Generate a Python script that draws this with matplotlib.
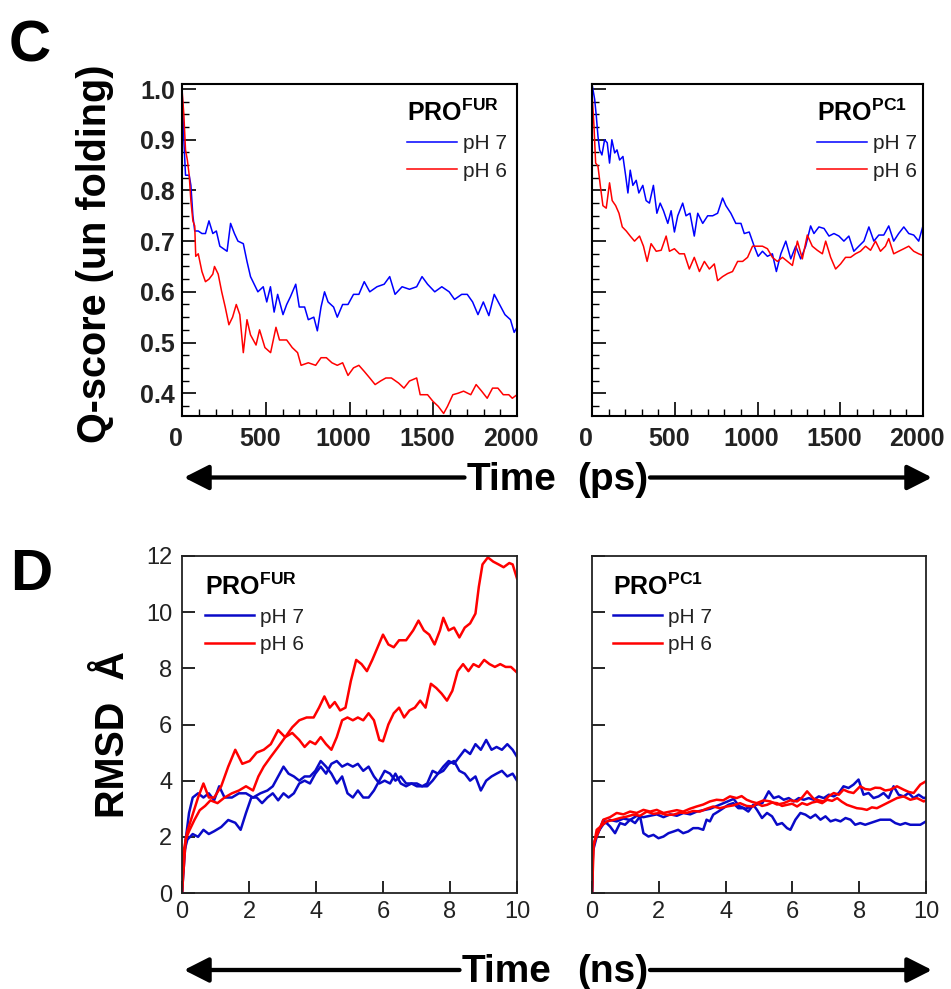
import matplotlib
matplotlib.use("Agg")
import matplotlib.pyplot as plt
from matplotlib.patches import FancyArrowPatch
from matplotlib.ticker import MultipleLocator
from matplotlib.transforms import ScaledTranslation

plt.rcParams["font.family"] = ["Liberation Sans", "DejaVu Sans"]
plt.rcParams["mathtext.fontset"] = "custom"
plt.rcParams["mathtext.rm"] = "Liberation Sans"
plt.rcParams["mathtext.bf"] = "Liberation Sans:bold"

# ---- panel C: Q-score vs time (ps) ----
t_fur_ph7 = [0, 11, 21, 43, 53, 65, 76, 97, 119, 140, 161, 184, 205, 226, 269, 290, 313, 334, 366, 388,
             409, 431, 453, 485, 506, 528, 550, 571, 603, 625, 647, 679, 700, 732, 754, 787, 808, 830, 851, 872,
             905, 927, 959, 991, 1024, 1056, 1088, 1121, 1164, 1207, 1240, 1272, 1314, 1358, 1401, 1433, 1466,
             1509, 1551, 1595, 1627, 1670, 1703, 1735, 1767, 1799, 1832, 1864, 1896, 1928, 1961, 1983, 2000]
q_fur_ph7 = [1.0, 0.90, 0.83, 0.83, 0.81, 0.75, 0.72, 0.72, 0.715, 0.715, 0.74, 0.715, 0.72, 0.69, 0.68, 0.735,
             0.715, 0.70, 0.695, 0.66, 0.63, 0.615, 0.60, 0.61, 0.58, 0.61, 0.56, 0.595, 0.555, 0.575, 0.59,
             0.615, 0.57, 0.57, 0.545, 0.55, 0.523, 0.57, 0.60, 0.58, 0.57, 0.55, 0.575, 0.575, 0.595, 0.595,
             0.62, 0.60, 0.61, 0.615, 0.63, 0.595, 0.61, 0.605, 0.61, 0.63, 0.615, 0.60, 0.61, 0.60, 0.585,
             0.595, 0.595, 0.58, 0.555, 0.58, 0.553, 0.595, 0.575, 0.555, 0.545, 0.52, 0.53]
t_fur_ph6 = [0, 11, 21, 32, 43, 53, 65, 76, 82, 97, 119, 140, 161, 184, 194, 216, 237, 258, 280, 302,
             324, 345, 366, 388, 409, 442, 463, 495, 529, 561, 582, 625, 658, 690, 711, 754, 798, 830, 862, 895,
             927, 959, 991, 1024, 1056, 1088, 1121, 1153, 1185, 1217, 1250, 1293, 1325, 1358, 1401, 1422, 1466,
             1498, 1530, 1562, 1585, 1617, 1649, 1681, 1724, 1756, 1789, 1822, 1854, 1886, 1918, 1951, 1972, 2000]
q_fur_ph6 = [1.0, 0.95, 0.88, 0.86, 0.83, 0.78, 0.74, 0.73, 0.67, 0.675, 0.64, 0.62, 0.625, 0.635, 0.65, 0.635,
             0.60, 0.57, 0.535, 0.55, 0.575, 0.555, 0.48, 0.545, 0.515, 0.495, 0.525, 0.49, 0.48, 0.53, 0.505,
             0.505, 0.49, 0.48, 0.455, 0.46, 0.455, 0.47, 0.47, 0.46, 0.455, 0.46, 0.435, 0.45, 0.455, 0.443,
             0.43, 0.417, 0.424, 0.43, 0.43, 0.42, 0.41, 0.424, 0.43, 0.397, 0.397, 0.384, 0.374, 0.36, 0.374,
             0.397, 0.40, 0.404, 0.397, 0.417, 0.404, 0.39, 0.41, 0.41, 0.397, 0.397, 0.39, 0.397]

t_pc1_ph7 = [0, 16, 26, 36, 46, 60, 76, 92, 106, 120, 137, 151, 167, 187, 203, 217, 231, 247, 267, 283,
             307, 327, 347, 371, 392, 412, 432, 458, 478, 498, 518, 548, 568, 592, 618, 639, 669, 699, 729, 759,
             789, 809, 839, 869, 900, 920, 950, 980, 1004, 1030, 1060, 1090, 1114, 1141, 1171, 1201, 1231, 1261,
             1291, 1321, 1341, 1371, 1402, 1432, 1462, 1492, 1522, 1552, 1582, 1612, 1643, 1673, 1703, 1733,
             1763, 1793, 1823, 1853, 1884, 1914, 1944, 1974, 1998]
q_pc1_ph7 = [1.01, 0.98, 0.947, 0.907, 0.88, 0.87, 0.90, 0.894, 0.854, 0.90, 0.874, 0.88, 0.86, 0.867, 0.83,
             0.795, 0.84, 0.81, 0.82, 0.795, 0.81, 0.78, 0.775, 0.81, 0.755, 0.775, 0.76, 0.735, 0.76, 0.718,
             0.75, 0.775, 0.75, 0.755, 0.71, 0.755, 0.735, 0.75, 0.75, 0.755, 0.785, 0.77, 0.755, 0.735, 0.735,
             0.715, 0.718, 0.69, 0.67, 0.68, 0.67, 0.675, 0.64, 0.675, 0.70, 0.665, 0.69, 0.665, 0.69, 0.73,
             0.715, 0.728, 0.725, 0.71, 0.715, 0.71, 0.70, 0.71, 0.68, 0.69, 0.70, 0.728, 0.70, 0.712, 0.712,
             0.73, 0.70, 0.715, 0.728, 0.715, 0.712, 0.70, 0.728]
t_pc1_ph6 = [0, 12, 22, 36, 50, 66, 86, 106, 122, 143, 163, 183, 207, 231, 257, 287, 311, 333, 357, 388,
             418, 448, 468, 498, 528, 558, 588, 618, 649, 679, 709, 739, 759, 789, 819, 849, 880, 910, 940, 970,
             1000, 1030, 1060, 1090, 1120, 1151, 1181, 1211, 1241, 1271, 1301, 1331, 1361, 1392, 1412, 1442,
             1472, 1502, 1532, 1562, 1592, 1622, 1653, 1683, 1713, 1743, 1773, 1793, 1823, 1853, 1884, 1914,
             1944, 1974, 1998]
q_pc1_ph6 = [0.993, 0.927, 0.854, 0.848, 0.81, 0.77, 0.765, 0.815, 0.78, 0.77, 0.755, 0.728, 0.72, 0.71, 0.70,
             0.71, 0.69, 0.66, 0.695, 0.68, 0.682, 0.71, 0.68, 0.685, 0.675, 0.675, 0.645, 0.668, 0.64, 0.66,
             0.645, 0.655, 0.622, 0.63, 0.636, 0.64, 0.66, 0.66, 0.668, 0.69, 0.69, 0.69, 0.685, 0.668, 0.66,
             0.668, 0.66, 0.652, 0.70, 0.665, 0.712, 0.69, 0.682, 0.675, 0.70, 0.668, 0.645, 0.655, 0.668, 0.668,
             0.675, 0.68, 0.69, 0.682, 0.70, 0.68, 0.69, 0.705, 0.675, 0.68, 0.685, 0.69, 0.68, 0.675, 0.672]

# ---- panel D: RMSD vs time (ns), two runs per pH ----
t_fur_ph6_a = [0, 0.05, 0.16, 0.32, 0.48, 0.64, 0.80, 0.96, 1.17, 1.38, 1.59, 1.80, 2.02, 2.23, 2.44, 2.65,
               2.87, 3.08, 3.29, 3.50, 3.72, 3.93, 4.09, 4.25, 4.41, 4.56, 4.72, 4.88, 5.04, 5.20, 5.36, 5.52,
               5.68, 5.84, 6.00, 6.16, 6.32, 6.48, 6.69, 6.90, 7.06, 7.22, 7.38, 7.54, 7.70, 7.80, 7.96, 8.12,
               8.28, 8.44, 8.60, 8.76, 8.86, 8.97, 9.13, 9.29, 9.45, 9.60, 9.77, 9.87, 10.0]
r_fur_ph6_a = [0, 1.5, 2.2, 2.8, 3.4, 3.9, 3.4, 3.4, 3.8, 4.5, 5.1, 4.6, 4.7, 5.0, 5.1, 5.3, 5.8, 5.55, 5.9,
               6.15, 6.25, 6.25, 6.6, 7.0, 6.6, 6.8, 6.5, 6.6, 7.55, 8.3, 8.15, 7.9, 8.3, 8.75, 9.2, 8.85, 8.75,
               9.0, 9.0, 9.35, 9.7, 9.35, 9.2, 8.85, 9.35, 9.8, 9.35, 9.45, 9.1, 9.45, 9.6, 9.95, 10.9, 11.7,
               11.95, 11.8, 11.7, 11.6, 11.75, 11.7, 11.2]
t_fur_ph6_b = [0, 0.11, 0.21, 0.37, 0.53, 0.69, 0.85, 1.06, 1.27, 1.49, 1.70, 1.91, 2.12, 2.28, 2.44, 2.65,
               2.87, 3.08, 3.29, 3.50, 3.66, 3.82, 3.98, 4.14, 4.30, 4.46, 4.62, 4.78, 4.94, 5.10, 5.25, 5.41,
               5.57, 5.73, 5.89, 6.00, 6.16, 6.32, 6.48, 6.63, 6.79, 6.95, 7.11, 7.27, 7.43, 7.59, 7.75, 7.91,
               8.07, 8.23, 8.39, 8.55, 8.70, 8.86, 9.02, 9.18, 9.34, 9.50, 9.66, 9.82, 10.0]
r_fur_ph6_b = [0, 1.9, 2.2, 2.6, 2.95, 3.1, 3.3, 3.2, 3.4, 3.55, 3.65, 3.8, 3.65, 4.15, 4.5, 4.85, 5.2, 5.55,
               5.7, 5.45, 5.2, 5.4, 5.3, 5.55, 5.3, 5.1, 5.55, 6.15, 6.25, 6.15, 6.25, 6.15, 6.4, 6.15, 5.45, 5.4,
               6.0, 6.4, 6.6, 6.25, 6.5, 6.6, 6.85, 6.6, 7.45, 7.3, 7.1, 6.85, 7.2, 7.9, 8.15, 7.9, 8.15, 8.05,
               8.3, 8.15, 8.05, 8.15, 8.05, 8.05, 7.85]
t_fur_ph7_a = [0, 0.05, 0.16, 0.32, 0.48, 0.64, 0.80, 0.96, 1.17, 1.38, 1.59, 1.75, 1.91, 2.07, 2.23, 2.39,
               2.55, 2.71, 2.87, 3.03, 3.18, 3.34, 3.50, 3.66, 3.82, 3.98, 4.14, 4.30, 4.46, 4.62, 4.78, 4.94,
               5.10, 5.25, 5.41, 5.57, 5.73, 5.89, 6.05, 6.21, 6.37, 6.53, 6.69, 6.85, 7.01, 7.17, 7.32, 7.48,
               7.64, 7.80, 7.96, 8.12, 8.28, 8.44, 8.60, 8.76, 8.92, 9.08, 9.24, 9.39, 9.55, 9.71, 9.87, 10.0]
r_fur_ph7_a = [0, 1.4, 1.9, 2.1, 2.0, 2.25, 2.1, 2.2, 2.35, 2.6, 2.5, 2.25, 2.85, 3.4, 3.4, 3.2, 3.4, 3.55,
               3.3, 3.55, 3.4, 3.55, 3.9, 4.0, 3.9, 4.25, 4.5, 4.25, 4.6, 4.7, 4.5, 4.6, 4.5, 4.6, 4.35, 4.5,
               4.15, 3.9, 4.0, 3.9, 4.25, 3.9, 3.8, 3.9, 3.8, 3.8, 3.9, 4.35, 4.25, 4.5, 4.7, 4.6, 4.85, 5.1,
               4.95, 5.3, 5.1, 5.45, 5.1, 5.2, 5.1, 5.3, 5.1, 4.85]
t_fur_ph7_b = [0, 0.11, 0.21, 0.32, 0.48, 0.64, 0.80, 0.96, 1.11, 1.27, 1.49, 1.70, 1.91, 2.12, 2.34, 2.55,
               2.71, 2.87, 3.03, 3.18, 3.34, 3.50, 3.66, 3.82, 3.98, 4.14, 4.30, 4.46, 4.62, 4.78, 4.94, 5.10,
               5.25, 5.41, 5.57, 5.73, 5.89, 6.05, 6.21, 6.37, 6.53, 6.69, 6.85, 7.01, 7.17, 7.32, 7.48, 7.64,
               7.80, 7.96, 8.12, 8.28, 8.44, 8.60, 8.76, 8.92, 9.08, 9.24, 9.39, 9.55, 9.71, 9.87, 10.0]
r_fur_ph7_b = [0, 1.9, 2.85, 3.4, 3.55, 3.4, 3.55, 3.3, 3.8, 3.4, 3.4, 3.55, 3.55, 3.4, 3.55, 3.65, 3.8, 4.15,
               4.5, 4.25, 4.15, 4.0, 4.15, 4.15, 4.35, 4.7, 4.5, 4.25, 3.9, 4.15, 3.55, 3.4, 3.65, 3.4, 3.4, 3.65,
               4.0, 4.35, 4.25, 4.0, 4.15, 3.9, 3.9, 3.9, 3.8, 3.8, 4.0, 4.25, 4.35, 4.6, 4.7, 4.35, 4.25, 4.0,
               4.15, 3.65, 4.0, 4.15, 4.25, 4.35, 4.15, 4.25, 4.0]

t_pc1_ph7_a = [0, 0.03, 0.14, 0.34, 0.54, 0.69, 0.84, 0.99, 1.14, 1.29, 1.44, 1.54, 1.69, 1.84, 1.99, 2.14,
               2.29, 2.44, 2.58, 2.73, 2.88, 3.03, 3.18, 3.33, 3.43, 3.53, 3.63, 3.78, 3.93, 4.08, 4.23, 4.38,
               4.53, 4.68, 4.83, 4.94, 5.09, 5.24, 5.39, 5.54, 5.69, 5.84, 5.94, 6.09, 6.24, 6.39, 6.54, 6.69,
               6.84, 6.99, 7.14, 7.29, 7.44, 7.59, 7.74, 7.88, 8.03, 8.18, 8.33, 8.48, 8.63, 8.78, 8.93, 9.08,
               9.23, 9.38, 9.53, 9.68, 9.83, 10.0]
r_pc1_ph7_a = [0, 1.5, 2.0, 2.6, 2.37, 2.13, 2.49, 2.43, 2.61, 2.49, 2.73, 2.13, 2.01, 2.07, 1.95, 2.01, 2.13,
               2.19, 2.25, 2.13, 2.19, 2.31, 2.31, 2.25, 2.61, 2.55, 2.79, 2.90, 3.02, 3.14, 3.20, 3.02, 3.02,
               2.90, 3.14, 2.96, 2.67, 2.85, 2.73, 2.43, 2.49, 2.31, 2.25, 2.61, 2.85, 2.79, 2.67, 2.79, 2.61,
               2.73, 2.55, 2.61, 2.55, 2.67, 2.61, 2.43, 2.49, 2.43, 2.49, 2.55, 2.61, 2.61, 2.61, 2.49, 2.43,
               2.49, 2.43, 2.43, 2.43, 2.55]
t_pc1_ph7_b = [0, 0.03, 0.14, 0.34, 0.54, 0.74, 0.94, 1.14, 1.34, 1.54, 1.74, 1.94, 2.14, 2.34, 2.54, 2.74,
               2.94, 3.14, 3.34, 3.54, 3.74, 3.94, 4.14, 4.24, 4.40, 4.60, 4.80, 4.94, 5.10, 5.29, 5.44, 5.59,
               5.74, 5.89, 6.04, 6.19, 6.34, 6.49, 6.64, 6.79, 6.94, 7.09, 7.24, 7.39, 7.53, 7.68, 7.83, 7.98,
               8.13, 8.28, 8.43, 8.58, 8.73, 8.88, 9.03, 9.18, 9.33, 9.48, 9.63, 9.78, 9.93, 10.0]
r_pc1_ph7_b = [0, 1.6, 2.1, 2.45, 2.6, 2.55, 2.65, 2.6, 2.75, 2.7, 2.75, 2.8, 2.7, 2.8, 2.75, 2.85, 2.8, 2.9,
               2.95, 3.0, 3.1, 3.2, 3.3, 3.35, 3.1, 3.0, 3.1, 3.15, 3.2, 3.62, 3.38, 3.44, 3.32, 3.38, 3.26, 3.38,
               3.32, 3.38, 3.32, 3.44, 3.38, 3.5, 3.44, 3.56, 3.8, 3.74, 3.86, 4.04, 3.5, 3.56, 3.38, 3.44, 3.56,
               3.38, 3.8, 3.5, 3.44, 3.56, 3.38, 3.5, 3.38, 3.4]
t_pc1_ph6_a = [0, 0.03, 0.15, 0.34, 0.54, 0.74, 0.94, 1.14, 1.34, 1.54, 1.74, 1.94, 2.14, 2.34, 2.54, 2.73,
               2.93, 3.13, 3.33, 3.53, 3.73, 3.93, 4.13, 4.33, 4.48, 4.63, 4.78, 4.93, 5.14, 5.34, 5.54, 5.74,
               5.94, 6.14, 6.29, 6.44, 6.64, 6.79, 6.94, 7.09, 7.24, 7.39, 7.53, 7.68, 7.83, 8.03, 8.18, 8.33,
               8.48, 8.63, 8.78, 8.93, 9.13, 9.33, 9.48, 9.63, 9.83, 10.0]
r_pc1_ph6_a = [0, 1.7, 2.05, 2.61, 2.7, 2.85, 2.8, 2.9, 2.85, 2.96, 2.9, 2.96, 2.85, 2.9, 2.95, 2.9, 3.0, 3.08,
               3.15, 3.26, 3.32, 3.3, 3.44, 3.38, 3.45, 3.32, 3.25, 3.2, 3.3, 3.26, 3.15, 3.2, 3.3, 3.26, 3.4,
               3.62, 3.35, 3.3, 3.26, 3.45, 3.56, 3.5, 3.68, 3.6, 3.56, 3.8, 3.7, 3.68, 3.75, 3.74, 3.65, 3.68,
               3.8, 3.68, 3.6, 3.56, 3.86, 3.98]
t_pc1_ph6_b = [0, 0.05, 0.14, 0.29, 0.44, 0.64, 0.84, 1.04, 1.24, 1.44, 1.64, 1.84, 2.04, 2.24, 2.44, 2.63,
               2.83, 3.03, 3.23, 3.43, 3.63, 3.83, 4.03, 4.23, 4.43, 4.63, 4.83, 4.94, 5.09, 5.24, 5.39, 5.54,
               5.69, 5.84, 5.99, 6.14, 6.29, 6.44, 6.59, 6.74, 6.89, 7.04, 7.19, 7.34, 7.48, 7.63, 7.78, 7.93,
               8.08, 8.23, 8.38, 8.53, 8.73, 8.93, 9.13, 9.33, 9.53, 9.73, 9.93, 10.0]
r_pc1_ph6_b = [0, 1.65, 2.25, 2.4, 2.55, 2.6, 2.67, 2.72, 2.79, 2.75, 2.90, 2.82, 2.85, 2.78, 2.79, 2.86, 2.85,
               2.92, 2.90, 3.0, 3.08, 3.02, 3.08, 3.12, 3.20, 3.1, 3.08, 3.20, 3.1, 3.14, 3.22, 3.20, 3.1, 3.14,
               3.18, 3.08, 3.2, 3.14, 3.22, 3.26, 3.2, 3.32, 3.28, 3.38, 3.25, 3.14, 3.08, 3.02, 3.0, 2.96, 3.05,
               3.02, 3.14, 3.26, 3.38, 3.44, 3.32, 3.38, 3.26, 3.3]

c_xticks = [0, 500, 1000, 1500, 2000]
c_yticks = [0.4, 0.5, 0.6, 0.7, 0.8, 0.9, 1.0]
d_xticks = [0, 2, 4, 6, 8, 10]
d_yticks = [0, 2, 4, 6, 8, 10, 12]
ph_labels = ["pH 7", "pH 6"]

W, H = 951, 989
fig = plt.figure(figsize=(W / 100, H / 100), dpi=100)


def box(x0, y0, x1, y1):
    # pixel box (top-left origin) -> figure fraction rect
    return [x0 / W, 1 - y1 / H, (x1 - x0) / W, (y1 - y0) / H]


TICK_COL = "#222222"


def style_c(ax, show_y):
    ax.set_xlim(0, 2000)
    ax.set_ylim(0.355, 1.01)
    ax.set_xticks(c_xticks, [str(v) for v in c_xticks], fontweight="bold", fontsize=18, color=TICK_COL)
    ax.set_yticks(c_yticks, [f"{v:.1f}" for v in c_yticks], fontweight="bold", fontsize=18, color=TICK_COL)
    ax.xaxis.set_minor_locator(MultipleLocator(100))
    ax.yaxis.set_minor_locator(MultipleLocator(0.025))
    ax.tick_params(which="major", direction="in", length=10, width=1.2, top=False, right=False)
    ax.tick_params(which="minor", direction="in", length=5, width=1.0, top=False, right=False)
    ax.tick_params(axis="x", pad=8)
    ax.tick_params(axis="y", pad=5, labelleft=show_y)
    off = ScaledTranslation(-6 / 100, 0, fig.dpi_scale_trans)
    for lab in ax.get_xticklabels():
        lab.set_transform(lab.get_transform() + off)
    for s in ax.spines.values():
        s.set_linewidth(1.5)


def style_d(ax, show_y):
    ax.set_xlim(0, 10)
    ax.set_ylim(0, 12)
    ax.set_xticks(d_xticks, [str(v) for v in d_xticks], fontsize=17, color=TICK_COL)
    ax.set_yticks(d_yticks, [str(v) for v in d_yticks], fontsize=17, color=TICK_COL)
    ax.tick_params(direction="in", length=9, width=1.2, top=False, right=False)
    ax.tick_params(axis="x", pad=6)
    ax.tick_params(axis="y", pad=7, labelleft=show_y)
    for s in ax.spines.values():
        s.set_linewidth(1.3)
        s.set_edgecolor("#222222")


def add_legend(ax, handles, title, anchor, loc, hl):
    ax.legend(handles, ph_labels, title=title, loc=loc, bbox_to_anchor=anchor,
              frameon=False, fontsize=15, title_fontsize=18, handlelength=hl,
              handletextpad=0.3, labelspacing=0.39, borderpad=0, borderaxespad=0,
              alignment="left", labelcolor=TICK_COL)


BLUE_C, RED_C = "#0000ff", "#ff0000"
BLUE_D, RED_D = "#0a0ac8", "#ff0000"

# panel C
axc1 = fig.add_axes(box(182, 84, 517, 416))
b, = axc1.plot(t_fur_ph7, q_fur_ph7, color=BLUE_C, lw=1.1)
r, = axc1.plot(t_fur_ph6, q_fur_ph6, color=RED_C, lw=1.1)
style_c(axc1, True)
add_legend(axc1, [b, r], r"$\mathbf{PRO^{FUR}}$", (0.970, 0.952), "upper right", 2.4)

axc2 = fig.add_axes(box(592, 84, 923, 416))
b, = axc2.plot(t_pc1_ph7, q_pc1_ph7, color=BLUE_C, lw=1.1)
r, = axc2.plot(t_pc1_ph6, q_pc1_ph6, color=RED_C, lw=1.1)
style_c(axc2, False)
add_legend(axc2, [b, r], r"$\mathbf{PRO^{PC1}}$", (0.982, 0.952), "upper right", 2.4)

# panel D
axd1 = fig.add_axes(box(182, 556, 517, 893))
b, = axd1.plot(t_fur_ph7_a, r_fur_ph7_a, color=BLUE_D, lw=1.8)
axd1.plot(t_fur_ph7_b, r_fur_ph7_b, color=BLUE_D, lw=1.8)
r, = axd1.plot(t_fur_ph6_a, r_fur_ph6_a, color=RED_D, lw=1.8)
axd1.plot(t_fur_ph6_b, r_fur_ph6_b, color=RED_D, lw=1.8)
style_d(axd1, True)
add_legend(axd1, [b, r], r"$\mathbf{PRO^{FUR}}$", (0.0687, 0.949), "upper left", 2.35)

axd2 = fig.add_axes(box(592, 556, 926, 893))
b, = axd2.plot(t_pc1_ph7_a, r_pc1_ph7_a, color=BLUE_D, lw=1.8)
axd2.plot(t_pc1_ph7_b, r_pc1_ph7_b, color=BLUE_D, lw=1.8)
r, = axd2.plot(t_pc1_ph6_a, r_pc1_ph6_a, color=RED_D, lw=1.8)
axd2.plot(t_pc1_ph6_b, r_pc1_ph6_b, color=RED_D, lw=1.8)
style_d(axd2, False)
add_legend(axd2, [b, r], r"$\mathbf{PRO^{PC1}}$", (0.0629, 0.949), "upper left", 2.35)

# panel letters, axis labels
fig.text(29.5 / W, 1 - 62 / H, "C", fontsize=42, fontweight="bold", ha="center", va="baseline")
fig.text(31.5 / W, 1 - 590 / H, "D", fontsize=42, fontweight="bold", ha="center", va="baseline")
fig.text(95 / W, 1 - 254 / H, "Q-score (un folding)", fontsize=28.5, fontweight="bold",
         rotation=90, ha="center", va="center")
fig.text(113 / W, 1 - 735 / H, "RMSD  Å", fontsize=28.5, fontweight="bold",
         rotation=90, ha="center", va="center")


def time_axis(label_y, arrow_y, unit, time_x):
    fig.text(time_x / W, 1 - label_y / H, "Time", fontsize=28, fontweight="bold", ha="center", va="baseline")
    fig.text(612.5 / W, 1 - label_y / H, unit, fontsize=28, fontweight="bold", ha="center", va="baseline")
    for x0, x1 in ((time_x - 47, 184), (650, 932)):
        fig.add_artist(FancyArrowPatch((x0 / W, 1 - arrow_y / H), (x1 / W, 1 - arrow_y / H),
                                       transform=fig.transFigure, arrowstyle="-|>,head_length=0.75,head_width=0.38",
                                       mutation_scale=20, lw=3.1, color="black", shrinkA=0, shrinkB=0))


time_axis(490, 477.5, "(ps)", 511.5)
time_axis(982, 970, "(ns)", 506.5)

fig.savefig("out.png", dpi=100)
